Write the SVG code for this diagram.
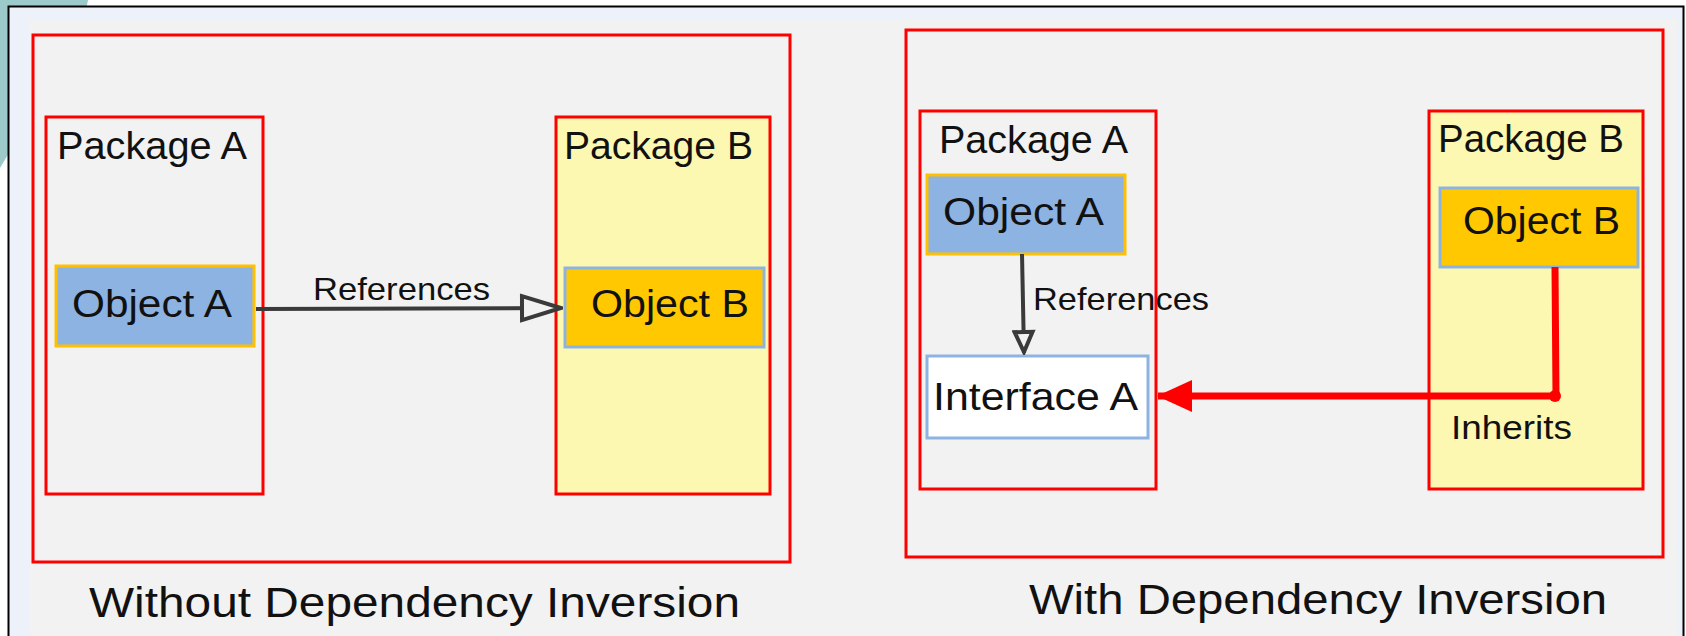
<svg xmlns="http://www.w3.org/2000/svg" width="1686" height="636" viewBox="0 0 1686 636">
  <style>
    .txt { font-family: "Liberation Sans", Arial, sans-serif; fill: #111; }
    .pkg { fill: #f2f2f2; stroke: #ff0000; stroke-width: 3; }
    .pkgB { fill: #fcf8b2; stroke: #ff0000; stroke-width: 3; }
    .outer { fill: none; stroke: #ff0000; stroke-width: 3; }
    .objA { fill: #8db3e2; stroke: #ffc000; stroke-width: 3; }
    .objB { fill: #ffc800; stroke: #8db3e2; stroke-width: 3; }
    .iface { fill: #ffffff; stroke: #8db3e2; stroke-width: 3; }
    .ref { fill: none; stroke: #3a3a3a; stroke-width: 4; }
    .inh { fill: none; stroke: #ff0000; stroke-width: 7; stroke-linejoin: round; }
  </style>
  <defs>
    <marker id="hollowBig" markerUnits="userSpaceOnUse" viewBox="0 0 44 30" refX="42" refY="15" markerWidth="44" markerHeight="30" orient="auto">
      <path d="M3,3 L42,15 L3,27 Z" fill="#f2f2f2" stroke="#3a3a3a" stroke-width="4"/>
    </marker>
    <marker id="hollowSmall" markerUnits="userSpaceOnUse" viewBox="0 0 26 24" refX="24" refY="12" markerWidth="26" markerHeight="24" orient="auto">
      <path d="M3,3 L23,12 L3,21 Z" fill="#f2f2f2" stroke="#3a3a3a" stroke-width="4"/>
    </marker>
    <marker id="solidRed" markerUnits="userSpaceOnUse" viewBox="0 0 36 34" refX="34" refY="17" markerWidth="36" markerHeight="34" orient="auto">
      <path d="M0,1 L35,17 L0,33 Z" fill="#ff0000"/>
    </marker>
  </defs>

  <!-- background -->
  <polygon points="0,0 88,0 82,30 0,168" fill="#9ccaca"/>
  <rect x="8.5" y="6.5" width="1675" height="640" fill="#edf1f9" stroke="#000" stroke-width="2"/>
  <rect x="30" y="20" width="1647" height="620" fill="#f2f2f2"/>

  <!-- left panel -->
  <g id="left-panel">
    <rect class="outer" x="33" y="35" width="757" height="527"/>
    <text class="txt" x="89" y="617" font-size="43" textLength="651" lengthAdjust="spacingAndGlyphs">Without Dependency Inversion</text>
  </g>
  <g id="left-package-a">
    <rect class="pkg" x="46" y="117" width="217" height="377"/>
    <text class="txt" x="57" y="159" font-size="38" textLength="190" lengthAdjust="spacingAndGlyphs">Package A</text>
  </g>
  <g id="left-package-b">
    <rect class="pkgB" x="556" y="117" width="214" height="377"/>
    <text class="txt" x="564" y="159" font-size="38" textLength="189" lengthAdjust="spacingAndGlyphs">Package B</text>
  </g>
  <g id="left-object-a">
    <rect class="objA" x="56" y="266" width="198" height="80"/>
    <text class="txt" x="72" y="317" font-size="38" textLength="160" lengthAdjust="spacingAndGlyphs">Object A</text>
  </g>
  <g id="left-object-b">
    <rect class="objB" x="565" y="268" width="199" height="79"/>
    <text class="txt" x="591" y="317" font-size="38" textLength="158" lengthAdjust="spacingAndGlyphs">Object B</text>
  </g>

  <!-- right panel -->
  <g id="right-panel">
    <rect class="outer" x="906" y="30" width="757" height="527"/>
    <text class="txt" x="1029" y="614" font-size="43" textLength="578" lengthAdjust="spacingAndGlyphs">With Dependency Inversion</text>
  </g>
  <g id="right-package-a">
    <rect class="pkg" x="920" y="111" width="236" height="378"/>
    <text class="txt" x="939" y="153" font-size="38" textLength="189" lengthAdjust="spacingAndGlyphs">Package A</text>
  </g>
  <g id="right-package-b">
    <rect class="pkgB" x="1429" y="111" width="214" height="378"/>
    <text class="txt" x="1438" y="152" font-size="38" textLength="186" lengthAdjust="spacingAndGlyphs">Package B</text>
  </g>
  <g id="right-object-a">
    <rect class="objA" x="927" y="175" width="198" height="79"/>
    <text class="txt" x="943" y="225" font-size="38" textLength="161" lengthAdjust="spacingAndGlyphs">Object A</text>
  </g>
  <g id="right-object-b">
    <rect class="objB" x="1440" y="188" width="198" height="79"/>
    <text class="txt" x="1463" y="234" font-size="38" textLength="157" lengthAdjust="spacingAndGlyphs">Object B</text>
  </g>
  <g id="right-interface-a">
    <rect class="iface" x="927" y="356" width="221" height="82"/>
    <text class="txt" x="933" y="410" font-size="39" textLength="205" lengthAdjust="spacingAndGlyphs">Interface A</text>
  </g>

  <!-- connectors -->
  <g id="connectors">
    <line class="ref" x1="256" y1="309" x2="561" y2="308" marker-end="url(#hollowBig)"/>
    <text class="txt" x="313" y="300" font-size="32" textLength="177" lengthAdjust="spacingAndGlyphs">References</text>

    <line class="ref" x1="1022" y1="254" x2="1024" y2="353" marker-end="url(#hollowSmall)"/>
    <text class="txt" x="1033" y="310" font-size="32" textLength="176" lengthAdjust="spacingAndGlyphs">References</text>

    <path class="inh" d="M1555,267 L1556,396 L1158,396" marker-end="url(#solidRed)"/>
    <circle cx="1555" cy="396" r="6" fill="#ff0000"/>
    <text class="txt" x="1451" y="439" font-size="33" textLength="121" lengthAdjust="spacingAndGlyphs">Inherits</text>
  </g>
</svg>
